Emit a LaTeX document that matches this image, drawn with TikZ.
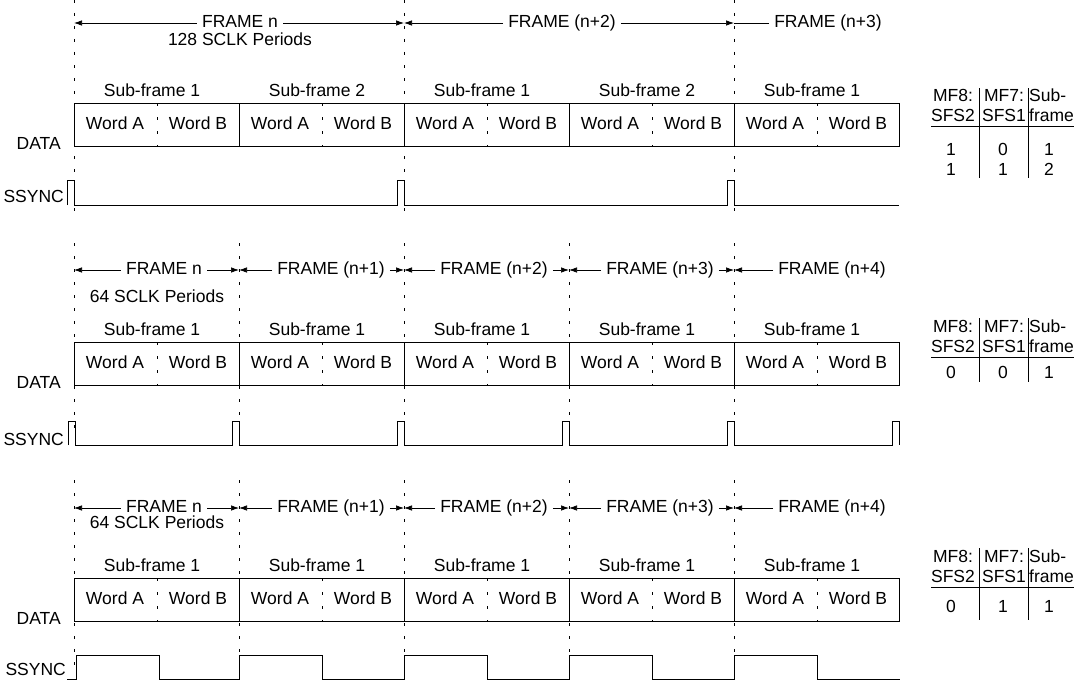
\documentclass[tikz,border=0pt]{standalone}
\usepackage{fontspec}
\setmainfont{Liberation Sans}
\usetikzlibrary{arrows.meta}

\begin{document}
\begin{tikzpicture}[x=1pt,y=-1pt,
    txt/.style={inner sep=1pt,text height=12.5pt,text depth=3pt,font=\fontsize{17.5}{20}\selectfont},
    flabel/.style={txt,inner sep=5pt},
    farrow/.style={-{Latex[length=8pt,width=5.5pt]},line width=0.7pt},
    fline/.style={line width=0.8pt},
    bound/.style={dash pattern=on 3pt off 10pt,line width=0.7pt},
    wdiv/.style={dash pattern=on 3pt off 11pt,line width=0.6pt},
    sig/.style={line width=1pt}]
\useasboundingbox (0,0) rectangle (1083,685);

% Frame boundaries
\foreach \x in {74,404,734}
  \draw[bound] (\x,0) -- (\x,215);
\foreach \x in {74,239,404,569,734} {
  \draw[bound] (\x,243) -- (\x,428);
  \draw[bound] (\x,480) -- (\x,665);
}

% Frame arrows, 128 SCLK row
\coordinate (p0) at (74,23);
\coordinate (p1) at (404,23);
\coordinate (p2) at (734,23);
\node[flabel] (fn) at (240,23) {FRAME n};
\node[txt] (sclk1) at (240,41) {128 SCLK Periods};
\node[flabel] (fn2) at (562,23) {FRAME (n+2)};
\node[flabel] (fn3) at (828,23) {FRAME (n+3)};
\draw[farrow] (fn) -- (p0);
\draw[farrow] (fn) -- (p1);
\draw[farrow] (fn2) -- (p1);
\draw[farrow] (fn2) -- (p2);
\draw[fline] (fn3) -- (p2);

% Frame arrows, 64 SCLK rows
\foreach \r/\y/\s in {2/270/298,3/508/524} {
  \foreach \i/\x in {0/74,1/239,2/404,3/569,4/734}
    \coordinate (q\r\i) at (\x,\y);
  \node[flabel] (g\r0) at (164,\y) {FRAME n};
  \node[flabel] (g\r1) at (331,\y) {FRAME (n+1)};
  \node[flabel] (g\r2) at (494,\y) {FRAME (n+2)};
  \node[flabel] (g\r3) at (660,\y) {FRAME (n+3)};
  \node[flabel] (g\r4) at (832,\y) {FRAME (n+4)};
  \node[txt] (sclk\r) at (157,\s) {64 SCLK Periods};
  \foreach \i/\j in {0/1,1/2,2/3,3/4} {
    \draw[farrow] (g\r\i) -- (q\r\i);
    \draw[farrow] (g\r\i) -- (q\r\j);
  }
  \draw[farrow] (g\r4) -- (q\r4);
}

% DATA words
\foreach \r/\y/\a in {1/103/2,2/342/1,3/578/1} {
  \draw[fline] (74,\y) rectangle (899,\y+43);
  \foreach \x in {239,404,569,734}
    \draw[fline] (\x,\y) -- (\x,\y+43);
  \foreach \i/\x/\n in {1/157/1,2/322/\a,3/487/1,4/652/\a,5/817/1} {
    \draw[wdiv] (\x,\y) -- (\x,\y+43);
    \node[txt] (wa\r\i) at (\x-42,\y+22) {Word A};
    \node[txt] (wb\r\i) at (\x+41,\y+22) {Word B};
    \node[txt] (sf\r\i) at (\x-5,\y-11) {Sub-frame \n};
  }
  \node[txt,anchor=east] (data\r) at (62,\y+42) {DATA};
}

% SSYNC
\node[txt,anchor=east] (ss1) at (65,198) {SSYNC};
\node[txt,anchor=east] (ss2) at (65,441) {SSYNC};
\node[txt,anchor=east] (ss3) at (67,671) {SSYNC};
\draw[sig] (67,205) -- (67,180) -- (74,180) -- (74,205)
  foreach \x in {404,734} { -- (\x-7,205) -- (\x-7,180) -- (\x,180) -- (\x,205) }
  -- (899,205);
\draw[sig] (68,445) -- (68,421) -- (75,421) -- (75,445)
  foreach \x in {239,404,569,734,899} { -- (\x-7,445) -- (\x-7,421) -- (\x,421) -- (\x,445) };
\draw[sig] (67,679)
  foreach \x in {76,239,404,569,734} { -- (\x,679) -- (\x,655) -- (\x+83,655) -- (\x+83,679) }
  -- (900,679);

% MF8 / MF7 tables
\foreach \t/\y in {1/97,2/328,3/558} {
  \node[txt] (mfa\t) at (953,\y) {MF8:};
  \node[txt] (sfa\t) at (953,\y+20) {SFS2};
  \node[txt] (mfb\t) at (1004,\y) {MF7:};
  \node[txt] (sfb\t) at (1004,\y+20) {SFS1};
  \node[txt,anchor=west] (sub\t) at (1028,\y) {Sub-};
  \node[txt,anchor=west] (frm\t) at (1028,\y+20) {frame};
  \draw[fline] (931,\y+29) -- (1074,\y+29);
}
\foreach \x in {979,1028} {
  \draw[fline] (\x,88) -- (\x,178);
  \draw[fline] (\x,318) -- (\x,382);
  \draw[fline] (\x,548) -- (\x,620);
}
\node[txt] (v11) at (951,151) {1};
\node[txt] (v12) at (1003,151) {0};
\node[txt] (v13) at (1049,151) {1};
\node[txt] (v21) at (951,171) {1};
\node[txt] (v22) at (1003,171) {1};
\node[txt] (v23) at (1049,171) {2};
\node[txt] (u11) at (951,374) {0};
\node[txt] (u12) at (1003,374) {0};
\node[txt] (u13) at (1049,374) {1};
\node[txt] (x11) at (951,608) {0};
\node[txt] (x12) at (1003,608) {1};
\node[txt] (x13) at (1049,608) {1};
\end{tikzpicture}
\end{document}
